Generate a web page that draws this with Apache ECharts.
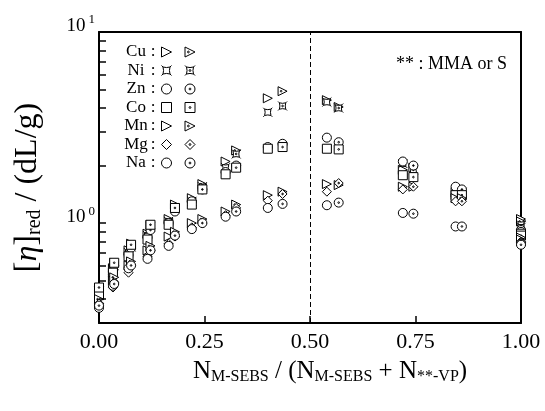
<!DOCTYPE html>
<html><head><meta charset="utf-8">
<script src="https://cdn.jsdelivr.net/npm/echarts@6/dist/echarts.min.js"></script>
<style>html,body{margin:0;padding:0;background:#fff}#c{width:545px;height:411px}</style>
</head><body><div id="c"></div>
<script>
// ---- data ----
const metals = ['Cu', 'Ni', 'Zn', 'Co', 'Mn', 'Mg', 'Na'];
const xMMA = [0.0, 0.033, 0.07, 0.115, 0.165, 0.22, 0.30, 0.40, 0.54, 0.72, 0.845, 1.0];
const xS   = [0.0, 0.036, 0.076, 0.122, 0.18, 0.245, 0.325, 0.435, 0.568, 0.745, 0.86, 1.0];
const cuMMA = [0.44, 0.58, 0.72, 0.88, 1.05, 1.35, 2.10, 4.50, 4.40, 1.90, 1.45, 1.05];
const cuS   = [0.45, 0.62, 0.78, 0.98, 1.25, 1.60, 2.40, 4.90, 4.05, 1.95, 1.50, 1.02];
const niMMA = [0.42, 0.57, 0.70, 0.86, 1.02, 1.30, 1.95, 3.80, 4.30, 2.05, 1.45, 0.98];
const niS   = [0.44, 0.60, 0.75, 0.95, 1.20, 1.55, 2.30, 4.10, 4.00, 1.90, 1.45, 0.95];
const znMMA = [0.43, 0.56, 0.68, 0.84, 1.00, 1.30, 1.85, 2.50, 2.80, 2.10, 1.55, 0.92];
const znS   = [0.44, 0.60, 0.74, 0.92, 1.15, 1.50, 2.00, 2.60, 2.65, 2.00, 1.50, 0.90];
const coMMA = [0.42, 0.55, 0.67, 0.82, 0.98, 1.25, 1.80, 2.45, 2.45, 1.78, 1.40, 0.88];
const coS   = [0.46, 0.62, 0.77, 0.98, 1.20, 1.50, 1.95, 2.50, 2.43, 1.74, 1.40, 0.86];
const mnMMA = [0.38, 0.50, 0.60, 0.72, 0.85, 1.00, 1.15, 1.40, 1.60, 1.55, 1.35, 0.84];
const mnS   = [0.40, 0.52, 0.63, 0.76, 0.90, 1.05, 1.25, 1.46, 1.58, 1.55, 1.35, 0.82];
const mgMMA = [0.37, 0.46, 0.55, 0.67, 0.78, 0.95, 1.10, 1.31, 1.46, 1.50, 1.30, 0.80];
const mgS   = [0.38, 0.49, 0.60, 0.72, 0.85, 1.00, 1.20, 1.42, 1.62, 1.55, 1.30, 0.79];
const naMMA = [0.36, 0.47, 0.58, 0.65, 0.76, 0.93, 1.08, 1.20, 1.24, 1.13, 0.96, 0.78];
const naS   = [0.37, 0.48, 0.60, 0.72, 0.86, 1.00, 1.15, 1.26, 1.28, 1.12, 0.96, 0.77];
const xTickValues = [0.25, 0.5, 0.75];
const yLabelValues = [1, 10];
const yTickValues = [0.4, 0.5, 0.6, 0.7, 0.8, 0.9, 1, 2, 3, 4, 5, 6, 7, 8, 9];
const dividerX = 0.5;

// ---- layout ----
const X_MIN = 0, X_MAX = 1, Y_MIN = 0.3, Y_MAX = 10;
const GRID = { left: 99, right: 24, top: 32, bottom: 88 };
const GRID_W = 545 - GRID.left - GRID.right;
const GRID_H = 411 - GRID.top - GRID.bottom;
const TICK_LEN = 7;
const tickDX = TICK_LEN / GRID_W * (X_MAX - X_MIN);                    // in x data units
const tickFY = Math.pow(Y_MAX / Y_MIN, TICK_LEN / GRID_H);             // log-scale factor

// ---- symbols ----
const DOT = (cx, cy) => `M${cx - 0.9},${cy}a0.9,0.9 0 1,0 1.8,0a0.9,0.9 0 1,0 -1.8,0`;
const shapes = {
  tri: 'M0,0L10,5L0,10Z',
  ni: 'M1.5,1.5Q5,2.6 8.5,1.5Q7.4,5 8.5,8.5Q5,7.4 1.5,8.5Q2.6,5 1.5,1.5Z M0,0L1.5,1.5 M10,0L8.5,1.5 M10,10L8.5,8.5 M0,10L1.5,8.5',
  circle: 'M5,0A5,5 0 1,1 5,10A5,5 0 1,1 5,0Z',
  square: 'M0,0L10,0L10,10L0,10Z',
  diamond: 'M5,0L10,5L5,10L0,5Z'
};
const dotCenter = { tri: [3.4, 5], ni: [5, 5], circle: [5, 5], square: [5, 5], diamond: [5, 5] };
const metalShape = { Cu: 'tri', Ni: 'ni', Zn: 'circle', Co: 'square', Mn: 'tri', Mg: 'diamond', Na: 'circle' };
const mmaData = { Cu: cuMMA, Ni: niMMA, Zn: znMMA, Co: coMMA, Mn: mnMMA, Mg: mgMMA, Na: naMMA };
const sData = { Cu: cuS, Ni: niS, Zn: znS, Co: coS, Mn: mnS, Mg: mgS, Na: naS };

const FONT = 'Liberation Serif';
const series = [];
metals.forEach(m => {
  const sh = metalShape[m];
  const open = 'path://' + shapes[sh];
  const dotted = 'path://' + shapes[sh] + ' ' + DOT(dotCenter[sh][0], dotCenter[sh][1]);
  const base = {
    type: 'scatter', symbolSize: 9, xAxisIndex: 0, yAxisIndex: 0,
    itemStyle: { color: '#fff', borderColor: '#000', borderWidth: 1, opacity: 1 },
    emphasis: { disabled: true }, z: 3
  };
  series.push(Object.assign({}, base, {
    name: m, symbol: open,
    data: xMMA.map((x, i) => [x, mmaData[m][i]])
  }));
  series.push(Object.assign({}, base, {
    name: m + ' S', symbol: dotted,
    data: xS.map((x, i) => [x, sData[m][i]])
  }));
});

// divider line + inward tick marks, all placed through the axis scales
const tickLine = { type: 'solid', width: 1.5, color: '#000' };
const markData = [{ xAxis: dividerX, lineStyle: { type: [5, 3], width: 1, color: '#000' } }];
yTickValues.forEach(v => markData.push([
  { coord: [X_MIN, v], lineStyle: tickLine }, { coord: [X_MIN + tickDX, v] }
]));
xTickValues.forEach(v => markData.push([
  { coord: [v, Y_MIN], lineStyle: tickLine }, { coord: [v, Y_MIN * tickFY] }
]));
series[0].markLine = {
  silent: true, symbol: ['none', 'none'], label: { show: false },
  lineStyle: { color: '#000', width: 1, type: 'solid' },
  emphasis: { disabled: true },
  data: markData
};

const axisLine = { show: true, onZero: false, lineStyle: { color: '#000', width: 2 } };
const legendItemStyle = { color: '#fff', borderColor: '#000', borderWidth: 1 };
const chart = echarts.init(document.getElementById('c'), null, { renderer: 'canvas' });
chart.setOption({
  animation: false,
  backgroundColor: '#fff',
  textStyle: { fontFamily: FONT, color: '#000' },
  title: {
    text: '** : MMA or S', left: 391, top: 50,
    textStyle: { fontFamily: FONT, fontSize: 18, fontWeight: 'normal', color: '#000' }
  },
  legend: [
    {
      data: metals, orient: 'vertical', left: 122, top: 43, padding: 0,
      align: 'right', itemWidth: 11, itemHeight: 10, itemGap: 0.5,
      selectedMode: false, itemStyle: legendItemStyle,
      formatter: n => `{n|${n}}{c|:}`,
      textStyle: {
        fontFamily: FONT, fontSize: 17, color: '#000', lineHeight: 18,
        rich: {
          n: { fontFamily: FONT, fontSize: 17, width: 28, lineHeight: 18 },
          c: { fontFamily: FONT, fontSize: 17, width: 6, align: 'center', lineHeight: 18 }
        }
      }
    },
    {
      data: metals.map(m => m + ' S'), orient: 'vertical', left: 184.5, top: 43, padding: 0,
      align: 'left', itemWidth: 11, itemHeight: 10, itemGap: 0.5,
      selectedMode: false, itemStyle: legendItemStyle,
      formatter: () => ' ',
      textStyle: { fontFamily: FONT, fontSize: 17, lineHeight: 18 }
    }
  ],
  grid: GRID,
  xAxis: [{
    type: 'value', min: X_MIN, max: X_MAX, interval: 0.25, position: 'bottom',
    name: 'N{s|M-SEBS} / (N{s|M-SEBS} + N{s|**-VP})',
    nameLocation: 'middle', nameGap: 34,
    nameTextStyle: {
      fontFamily: FONT, fontSize: 25, color: '#000', padding: [0, 0, 0, 40],
      rich: { s: { fontFamily: FONT, fontSize: 16, padding: [12, 0, 0, 0] } }
    },
    axisLine: axisLine,
    axisTick: { show: false },
    axisLabel: {
      show: true, margin: 8, fontFamily: FONT, fontSize: 22, color: '#000',
      formatter: v => v.toFixed(2)
    },
    splitLine: { show: false }
  }, {
    type: 'value', min: X_MIN, max: X_MAX, position: 'top',
    axisLine: axisLine, axisTick: { show: false }, axisLabel: { show: false }, splitLine: { show: false }
  }],
  yAxis: [{
    type: 'log', logBase: 10, min: Y_MIN, max: Y_MAX, position: 'left',
    name: '[{i|η}]{s|red} / (dL/g)',
    nameLocation: 'middle', nameRotate: 90, nameGap: 54,
    nameTextStyle: {
      fontFamily: FONT, fontSize: 32, color: '#000', padding: [0, 20, 0, 0],
      rich: {
        i: { fontFamily: FONT, fontSize: 32, fontStyle: 'italic' },
        s: { fontFamily: FONT, fontSize: 20, padding: [14, 0, 0, 0] }
      }
    },
    axisLine: axisLine,
    axisTick: { show: false },
    axisLabel: {
      show: true, margin: 4, verticalAlign: 'middle', customValues: yLabelValues,
      formatter: v => `{b|10}{p|${Math.round(Math.log10(v))}}`,
      rich: {
        b: { fontFamily: FONT, fontSize: 19, color: '#000', padding: [0, 0, 12, 0] },
        p: { fontFamily: FONT, fontSize: 13, color: '#000', padding: [0, 0, 24, 3] }
      }
    },
    splitLine: { show: false }
  }, {
    type: 'log', logBase: 10, min: Y_MIN, max: Y_MAX, position: 'right',
    axisLine: axisLine, axisTick: { show: false }, axisLabel: { show: false }, splitLine: { show: false }
  }],
  series: series
});
</script></body></html>
